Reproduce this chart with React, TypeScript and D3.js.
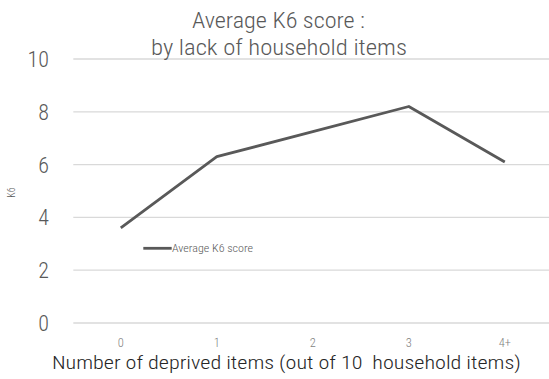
import React from "react";
import * as d3 from "d3";

const categories = ["0", "1", "2", "3", "4+"];
const k6Values = [3.6, 6.3, 7.25, 8.2, 6.1];
const yTicks = [0, 2, 4, 6, 8, 10];

const titleLines = ["Average K6 score :", "by lack of household items"];
const xAxisTitle = "Number of deprived items (out of 10  household items)";
const yAxisTitle = "K6";
const seriesName = "Average K6 score";

const W = 549;
const H = 379;
const FONT = "'Roboto Condensed', Roboto, 'DejaVu Sans Condensed', sans-serif";
const TEXT = "#595959";

export default function App() {
  const x = d3.scaleBand<string>().domain(categories).range([72.8, 552.8]);
  const y = d3.scaleLinear().domain([0, 10]).range([323, 59]);
  const cx = (c: string) => (x(c) as number) + x.bandwidth() / 2;

  const line = d3
    .line<number>()
    .x((_, i) => cx(categories[i]))
    .y((d) => y(d));

  return (
    <svg
      width={W}
      height={H}
      style={{ position: "absolute", left: 0, top: 0, background: "#fff" }}
      fontFamily={FONT}
    >
      {/* horizontal gridlines */}
      {yTicks.map((t) => (
        <line key={t} x1={73.3} x2={W} y1={y(t)} y2={y(t)} stroke="#d9d9d9" strokeWidth={1.3} />
      ))}
      {/* y tick labels */}
      {yTicks.map((t) => (
        <text key={t} x={49} y={y(t)} dy="0.36em" textAnchor="end" fontSize={22} fill={TEXT} fontWeight={300}>
          {t}
        </text>
      ))}
      {/* x tick labels */}
      {categories.map((c) => (
        <text key={c} x={cx(c)} y={347} textAnchor="middle" fontSize={12.5} fill="#7f7f7f" fontWeight={300}>
          {c}
        </text>
      ))}
      {/* title */}
      <text x={278.5} y={28} textAnchor="middle" fontSize={22} fill={TEXT} fontWeight={300}
        textLength={173} lengthAdjust="spacingAndGlyphs">
        {titleLines[0]}
      </text>
      <text x={279} y={55} textAnchor="middle" fontSize={22} fill={TEXT} fontWeight={300}
        textLength={256} lengthAdjust="spacingAndGlyphs">
        {titleLines[1]}
      </text>
      {/* axis titles */}
      <text x={286.4} y={369} textAnchor="middle" fontSize={17.5} fill="#262626" fontWeight={300}
        textLength={469} lengthAdjust="spacingAndGlyphs" style={{ whiteSpace: "pre" }}>
        {xAxisTitle}
      </text>
      <text transform="translate(15,192.5) rotate(-90)" textAnchor="middle" fontSize={10} fill={TEXT} fontWeight={300}>
        {yAxisTitle}
      </text>
      {/* series line */}
      <path d={line(k6Values) ?? ""} fill="none" stroke="#595959" strokeWidth={2.8} strokeLinejoin="round" />
      {/* legend */}
      <line x1={143.3} x2={171.7} y1={248.3} y2={248.3} stroke="#595959" strokeWidth={2.8} />
      <text x={172} y={252.3} fontSize={11.5} fill={TEXT} fontWeight={300}
        textLength={81} lengthAdjust="spacingAndGlyphs">
        {seriesName}
      </text>
    </svg>
  );
}
